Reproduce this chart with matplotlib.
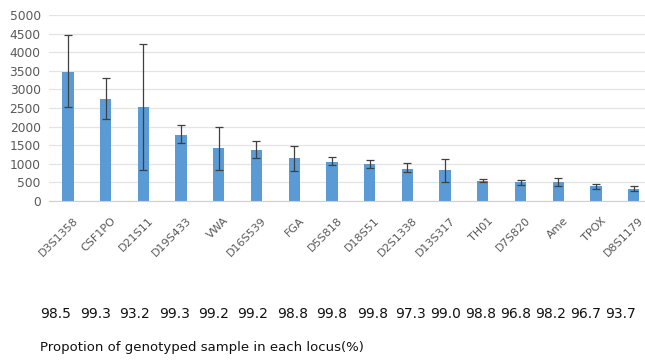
import matplotlib.pyplot as plt
from matplotlib.transforms import ScaledTranslation

loci = ["D3S1358", "CSF1PO", "D21S11", "D19S433", "VWA", "D16S539", "FGA", "D5S818",
        "D18S51", "D2S1338", "D13S317", "TH01", "D7S820", "Ame", "TPOX", "D8S1179"]
means = [3480, 2740, 2530, 1780, 1420, 1360, 1150, 1060, 1000, 870, 820, 550, 510, 510, 400, 330]
upper = [4460, 3310, 4220, 2030, 2000, 1620, 1480, 1170, 1110, 1020, 1140, 600, 560, 630, 450, 410]
lower = [2540, 2200, 840, 1550, 840, 1160, 810, 960, 890, 770, 500, 510, 440, 400, 320, 280]
percent = ["98.5", "99.3", "93.2", "99.3", "99.2", "99.2", "98.8", "99.8",
           "99.8", "97.3", "99.0", "98.8", "96.8", "98.2", "96.7", "93.7"]

err = [[m - lo for m, lo in zip(means, lower)], [hi - m for m, hi in zip(means, upper)]]
x = range(len(loci))

fig = plt.figure(figsize=(6.45, 3.6), dpi=100)
ax = fig.add_axes([49 / 645, 1 - 201 / 360, 596 / 645, 186 / 360])

ax.bar(x, means, width=0.3, color="#5B9BD5", zorder=2)
ax.errorbar(x, means, yerr=err, fmt="none", ecolor="#404040", elinewidth=0.9,
            capsize=3, capthick=0.9, zorder=3)

ax.set_xlim(-0.5, 15.3)
ax.set_ylim(0, 5000)
ax.set_yticks(range(0, 5001, 500))
ax.yaxis.grid(True, color="#E4E4E4", linewidth=0.9, zorder=0)
for s in ["top", "right", "left"]:
    ax.spines[s].set_visible(False)
ax.spines["bottom"].set_color("#D0D0D0")
ax.tick_params(axis="y", length=0, pad=6, labelsize=8.8, labelcolor="#595959")
ax.tick_params(axis="x", length=0, pad=6, labelsize=8, labelcolor="#595959")

ax.set_xticks(list(x))
ax.set_xticklabels(loci, rotation=45, ha="right", va="top", rotation_mode="anchor")
shift = ScaledTranslation(5 / 100, -6 / 100, fig.dpi_scale_trans)
for lbl in ax.get_xticklabels():
    lbl.set_transform(lbl.get_transform() + shift)

# percentage row, left edges in pixels
starts = [40, 80, 119, 159, 198, 237, 277, 316, 357, 395, 430, 465, 500, 535, 570, 605]
for px, p in zip(starts, percent):
    fig.text(px / 645, 1 - 314 / 360, p, fontsize=10, va="center", ha="left", color="#111111")

fig.text(40 / 645, 1 - 348 / 360, "Propotion of genotyped sample in each locus(%)",
         fontsize=9.5, va="center", ha="left", color="#111111")

fig.savefig("out.png", dpi=100)
